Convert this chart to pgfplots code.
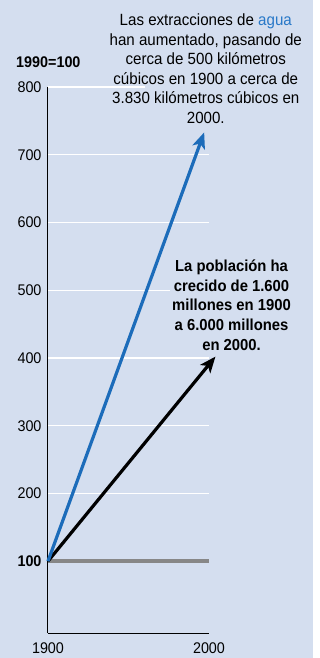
\documentclass[border=0pt]{standalone}
\usepackage{fontspec}
\setmainfont{Liberation Sans}[FakeStretch=0.93]
\usepackage{pgfplots}
\pgfplotsset{compat=1.18}
\usetikzlibrary{arrows.meta}

\definecolor{bg}{RGB}{212,222,239}
\definecolor{waterblue}{RGB}{28,108,186}
\definecolor{agua}{RGB}{40,120,200}
\definecolor{basegray}{RGB}{135,135,135}

\begin{document}
\begin{tikzpicture}
\useasboundingbox (0,0) rectangle (320bp,658bp);
\fill[bg] (0,0) rectangle (313bp,658bp);
\fill[white] (313bp,0) rectangle (320bp,658bp);
\node[anchor=west, inner sep=0, font=\fontsize{15.5}{17}\selectfont\bfseries] at (16bp,596bp) {1990=100};

\begin{axis}[
    at={(48bp,25bp)}, anchor=south west,
    scale only axis, width=161bp, height=546bp,
    xmin=1900, xmax=2000, ymin=-6, ymax=800,
    axis x line*=bottom, axis y line*=left,
    axis line style={black, line width=1bp, -},
    xtick={1900,2000}, xticklabels={1900,2000},
    ytick={100,200,...,800},
    yticklabels={\textbf{100},200,300,400,500,600,700,800},
    major tick length=0,
    ymajorgrids, grid style={white, line width=1.3bp},
    tick label style={font=\fontsize{15.5}{17}\selectfont},
    /pgf/number format/assume math mode=true,
    xticklabel style={yshift=-6bp},
    yticklabel style={xshift=-3bp},
    clip=false,
]
% linea base 1900 = 100
\addplot[basegray, line width=4bp] coordinates {(1900,100) (2000,100)};
% poblacion
\addplot[black, line width=3.2bp, -{Stealth[length=16bp,width=13bp,inset=4bp]}]
    coordinates {(1900,100) (2004,402)};
% extracciones de agua
\addplot[waterblue, line width=3.2bp, -{Stealth[length=16bp,width=13bp,inset=4bp]}]
    coordinates {(1900,100) (1997,733)};

% la linea de 800 termina antes del texto
\fill[bg] (axis cs:1960,793) rectangle (axis cs:2002,807);
\node[inner sep=2bp, align=center,
      font=\fontsize{16.3}{19.6}\selectfont] at (axis cs:1998,827)
    {Las extracciones de {\color{agua}agua}\\han aumentado, pasando de\\cerca de 500 kilómetros\\cúbicos en 1900 a cerca de\\3.830 kilómetros cúbicos en\\2000.};
\node[fill=bg, inner sep=2bp, align=center,
      font=\fontsize{16}{19.8}\selectfont\bfseries] at (axis cs:2014,478)
    {La población ha\\crecido de 1.600\\millones en 1900\\a 6.000 millones\\en 2000.};
\end{axis}
\end{tikzpicture}
\end{document}
